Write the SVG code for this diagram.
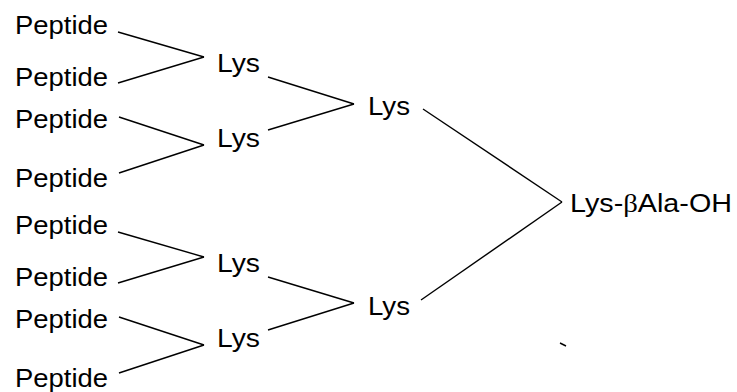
<svg xmlns="http://www.w3.org/2000/svg" width="737" height="392" viewBox="0 0 737 392">
<style>
text{font-family:"Liberation Sans",Arial,sans-serif;font-size:26px;fill:#000}
.c line{stroke:#000;stroke-width:1.4;fill:none}
.b{font-family:"Liberation Serif","Times New Roman",serif}
</style>
<rect width="737" height="392" fill="#fff"/>
<g class="c" id="connectors">
<line x1="118" y1="32" x2="204" y2="57"/>
<line x1="118" y1="83" x2="204" y2="57"/>
<line x1="119" y1="117" x2="204" y2="145"/>
<line x1="119" y1="173" x2="204" y2="145"/>
<line x1="118" y1="232" x2="204" y2="257"/>
<line x1="118" y1="283" x2="204" y2="257"/>
<line x1="119" y1="317" x2="204" y2="345"/>
<line x1="119" y1="373" x2="204" y2="345"/>
<line x1="268" y1="77" x2="354" y2="104"/>
<line x1="268" y1="130" x2="354" y2="104"/>
<line x1="268" y1="277" x2="354" y2="303"/>
<line x1="268" y1="330" x2="354" y2="303"/>
<line x1="423" y1="109" x2="562" y2="202"/>
<line x1="421" y1="300" x2="562" y2="202"/>
<line x1="560" y1="343" x2="566" y2="346"/>
</g>
<g id="p1"><text x="15" y="34" textLength="93" lengthAdjust="spacingAndGlyphs">Peptide</text></g>
<g id="p2"><text x="15" y="86" textLength="93" lengthAdjust="spacingAndGlyphs">Peptide</text></g>
<g id="p3"><text x="15" y="128" textLength="93" lengthAdjust="spacingAndGlyphs">Peptide</text></g>
<g id="p4"><text x="15" y="187" textLength="93" lengthAdjust="spacingAndGlyphs">Peptide</text></g>
<g id="p5"><text x="15" y="234" textLength="93" lengthAdjust="spacingAndGlyphs">Peptide</text></g>
<g id="p6"><text x="15" y="286" textLength="93" lengthAdjust="spacingAndGlyphs">Peptide</text></g>
<g id="p7"><text x="15" y="328" textLength="93" lengthAdjust="spacingAndGlyphs">Peptide</text></g>
<g id="p8"><text x="15" y="387" textLength="93" lengthAdjust="spacingAndGlyphs">Peptide</text></g>
<g id="l1"><text x="217" y="72" textLength="43" lengthAdjust="spacingAndGlyphs">Lys</text></g>
<g id="l2"><text x="217" y="147" textLength="43" lengthAdjust="spacingAndGlyphs">Lys</text></g>
<g id="l3"><text x="217" y="272" textLength="43" lengthAdjust="spacingAndGlyphs">Lys</text></g>
<g id="l4"><text x="217" y="347" textLength="43" lengthAdjust="spacingAndGlyphs">Lys</text></g>
<g id="m1"><text x="368" y="115" textLength="42" lengthAdjust="spacingAndGlyphs">Lys</text></g>
<g id="m2"><text x="368" y="315" textLength="42" lengthAdjust="spacingAndGlyphs">Lys</text></g>
<g id="root"><text x="570" y="212" textLength="162" lengthAdjust="spacingAndGlyphs">Lys-<tspan class="b">β</tspan>Ala-OH</text></g>
</svg>
